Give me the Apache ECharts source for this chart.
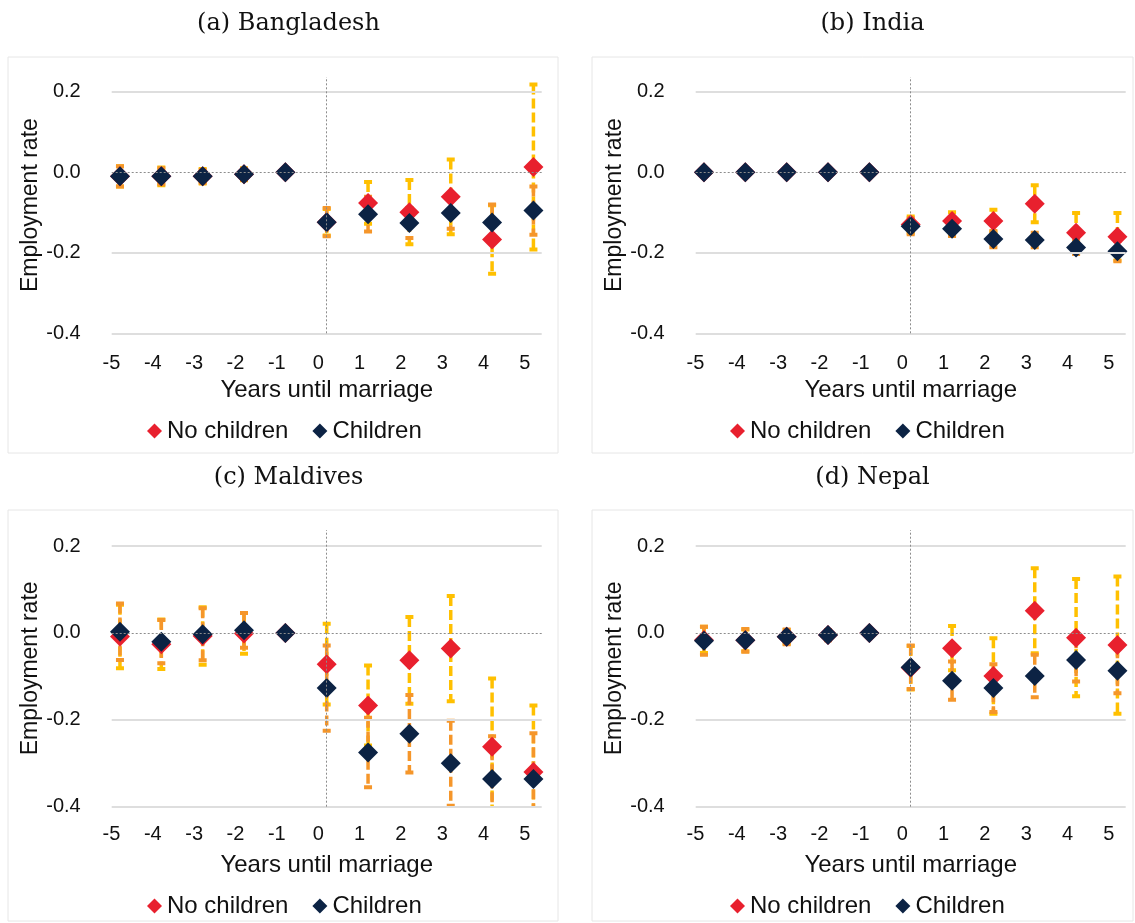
<!DOCTYPE html>
<html lang="en">
<head>
<meta charset="utf-8" />
<title>Employment rate around marriage</title>
<style>
  html, body { margin: 0; padding: 0; background: #fff; }
  #main { width: 1135px; height: 923px; }
</style>
</head>
<body>
<div id="main"></div>
<script src="https://cdn.jsdelivr.net/npm/echarts@6/dist/echarts.min.js"></script>
<script>
// ---- data ----
var panelTitles = ['(a) Bangladesh', '(b) India', '(c) Maldives', '(d) Nepal'];
var years = [-5, -4, -3, -2, -1, 0, 1, 2, 3, 4, 5];
var yTicks = [-0.4, -0.2, 0, 0.2];
var gridValues = [0.2, -0.2, -0.4];

// point estimates and half-width of the confidence interval
var bdNoKids    = [-0.010, -0.010, -0.010, -0.005, 0, -0.124, -0.076, -0.099, -0.061, -0.167, 0.013];
var bdNoKidsErr = [0.025, 0.022, 0.018, 0.015, 0, 0.033, 0.052, 0.080, 0.093, 0.085, 0.205];
var bdKids      = [-0.010, -0.010, -0.010, -0.005, 0, -0.124, -0.104, -0.126, -0.101, -0.125, -0.095];
var bdKidsErr   = [0.025, 0.020, 0.016, 0.013, 0, 0.035, 0.043, 0.037, 0.039, 0.045, 0.060];

var inNoKids    = [0, 0, 0, 0, 0, -0.130, -0.121, -0.121, -0.078, -0.150, -0.160];
var inNoKidsErr = [0, 0, 0, 0, 0, 0.020, 0.022, 0.028, 0.046, 0.049, 0.059];
var inKids      = [0, 0, 0, 0, 0, -0.134, -0.140, -0.166, -0.168, -0.187, -0.196];
var inKidsErr   = [0, 0, 0, 0, 0, 0.020, 0.018, 0.020, 0.018, 0.016, 0.025];

var mvNoKids    = [-0.008, -0.026, -0.007, -0.001, 0, -0.072, -0.167, -0.063, -0.036, -0.262, -0.320];
var mvNoKidsErr = [0.073, 0.057, 0.066, 0.047, 0, 0.093, 0.092, 0.100, 0.121, 0.157, 0.153];
var mvKids      = [0.003, -0.020, -0.003, 0.006, 0, -0.127, -0.275, -0.232, -0.300, -0.336, -0.336];
var mvKidsErr   = [0.065, 0.050, 0.060, 0.040, 0, 0.098, 0.080, 0.089, 0.098, 0.098, 0.105];

var npNoKids    = [-0.016, -0.017, -0.009, -0.005, 0, -0.080, -0.035, -0.099, 0.051, -0.011, -0.028];
var npNoKidsErr = [0.030, 0.025, 0.016, 0.011, 0, 0.050, 0.051, 0.087, 0.098, 0.135, 0.158];
var npKids      = [-0.018, -0.017, -0.009, -0.005, 0, -0.079, -0.110, -0.127, -0.099, -0.062, -0.087];
var npKidsErr   = [0.032, 0.026, 0.017, 0.012, 0, 0.050, 0.044, 0.055, 0.049, 0.050, 0.052];

var panelData = [
  [bdNoKids, bdNoKidsErr, bdKids, bdKidsErr],
  [inNoKids, inNoKidsErr, inKids, inKidsErr],
  [mvNoKids, mvNoKidsErr, mvKids, mvKidsErr],
  [npNoKids, npNoKidsErr, npKids, npKidsErr]
];

// ---- layout ----
var sans = 'Liberation Sans, Arial, sans-serif';
var textColor = '#111';
var layout = [
  { box: [8, 57, 550, 396],   grid: [111.7, 76.9, 430, 256.4], title: 283.5, titleTop: 7,   legend: [142, 414], margin: 20, nameGap: 45 },
  { box: [592, 57, 541, 396], grid: [695.7, 76.9, 430, 256.4], title: 867.5, titleTop: 7,   legend: [725, 414], margin: 20, nameGap: 45 },
  { box: [8, 510, 550, 411],  grid: [111.7, 530, 430, 276.7],  title: 283.5, titleTop: 461, legend: [142, 889], margin: 18, nameGap: 47 },
  { box: [592, 510, 541, 411],grid: [695.7, 530, 430, 276.7],  title: 867.5, titleTop: 461, legend: [725, 889], margin: 18, nameGap: 47 }
];

function toTriples(vals, errs) {
  return years.map(function (y, i) { return [y, vals[i], errs[i]]; });
}

function toPoints(vals) {
  return years.map(function (y, i) { return [y, vals[i]]; });
}

// dashed vertical error bar with small caps
function renderErrorBar(params, api) {
  var x = api.value(0), v = api.value(1), e = api.value(2);
  if (!e) return;
  var hi = api.coord([x, v + e]);
  var lo = api.coord([x, v - e]);
  var color = api.visual('color');
  var cap = 4;
  return {
    type: 'group',
    children: [
      { type: 'line', shape: { x1: hi[0], y1: hi[1], x2: lo[0], y2: lo[1] },
        style: { stroke: color, lineWidth: 3.5, lineDash: [10, 4] } },
      { type: 'line', shape: { x1: hi[0] - cap, y1: hi[1], x2: hi[0] + cap, y2: hi[1] },
        style: { stroke: color, lineWidth: 4 } },
      { type: 'line', shape: { x1: lo[0] - cap, y1: lo[1], x2: lo[0] + cap, y2: lo[1] },
        style: { stroke: color, lineWidth: 4 } }
    ]
  };
}

var option = {
  animation: false,
  backgroundColor: '#fff',
  title: [], grid: [], xAxis: [], yAxis: [], legend: [], series: [], graphic: []
};

for (var i = 0; i < 4; i++) {
  var L = layout[i];
  var d = panelData[i];

  // faint chart-area frame
  option.graphic.push({
    type: 'rect', silent: true, z: -1,
    shape: { x: L.box[0], y: L.box[1], width: L.box[2], height: L.box[3] },
    style: { fill: 'none', stroke: '#e6e6e6', lineWidth: 1 }
  });

  option.title.push({
    text: panelTitles[i], left: L.title, top: L.titleTop, textAlign: 'center',
    textStyle: { fontFamily: 'DejaVu Serif, serif', fontWeight: 'normal', fontSize: 24, color: '#111' }
  });

  option.grid.push({ left: L.grid[0], top: L.grid[1], width: L.grid[2], height: L.grid[3] });

  option.xAxis.push({
    type: 'value', gridIndex: i, min: -5.2, max: 5.2,
    name: 'Years until marriage', nameLocation: 'middle', nameGap: L.nameGap,
    nameTextStyle: { fontFamily: sans, fontSize: 24, color: textColor },
    axisLine: { show: false }, axisTick: { show: false }, splitLine: { show: false },
    axisLabel: {
      customValues: years, margin: L.margin, padding: [0, 17, 0, 0],
      fontFamily: sans, fontSize: 20, color: textColor
    }
  });

  option.yAxis.push({
    type: 'value', gridIndex: i, min: -0.4, max: 0.237,
    name: 'Employment rate', nameLocation: 'middle', nameGap: 67,
    nameTextStyle: { fontFamily: sans, fontSize: 23, color: textColor },
    axisLine: { show: false }, axisTick: { show: false }, splitLine: { show: false },
    axisLabel: {
      customValues: yTicks, margin: 31,
      fontFamily: sans, fontSize: 20, color: textColor,
      formatter: function (v) { return v.toFixed(1); }
    }
  });

  option.legend.push({
    left: L.legend[0], top: L.legend[1],
    data: ['No children', 'Children'],
    icon: 'diamond', itemWidth: 15, itemHeight: 15, itemGap: 24,
    textStyle: { fontFamily: sans, fontSize: 24, color: textColor }
  });

  // gridlines and the dotted zero lines
  var lines = gridValues.map(function (g) {
    return { yAxis: g, lineStyle: { color: '#dedede', width: 2, type: 'solid' } };
  });
  lines.push({ yAxis: 0, lineStyle: { color: '#8c8c8c', width: 1, type: [2, 2] } });
  lines.push({ xAxis: 0, lineStyle: { color: '#8c8c8c', width: 1, type: [2, 2] } });

  option.series.push({
    type: 'line', name: 'grid' + i, xAxisIndex: i, yAxisIndex: i, data: [], z: 1, silent: true,
    markLine: { symbol: 'none', silent: true, animation: false, label: { show: false }, data: lines }
  });

  option.series.push({
    type: 'custom', name: 'No children CI', xAxisIndex: i, yAxisIndex: i, clip: true, z: 2,
    itemStyle: { color: '#ffc000' }, renderItem: renderErrorBar, data: toTriples(d[0], d[1])
  });
  option.series.push({
    type: 'custom', name: 'Children CI', xAxisIndex: i, yAxisIndex: i, clip: true, z: 2,
    itemStyle: { color: '#f5962a' }, renderItem: renderErrorBar, data: toTriples(d[2], d[3])
  });
  option.series.push({
    type: 'scatter', name: 'No children', xAxisIndex: i, yAxisIndex: i, z: 3,
    symbol: 'diamond', symbolSize: 20, itemStyle: { color: '#e8202e', opacity: 1 },
    data: toPoints(d[0])
  });
  option.series.push({
    type: 'scatter', name: 'Children', xAxisIndex: i, yAxisIndex: i, z: 3,
    symbol: 'diamond', symbolSize: 20, itemStyle: { color: '#0c2344', opacity: 1 },
    data: toPoints(d[2])
  });
}

var chart = echarts.init(document.getElementById('main'));
chart.setOption(option);
</script>
</body>
</html>
